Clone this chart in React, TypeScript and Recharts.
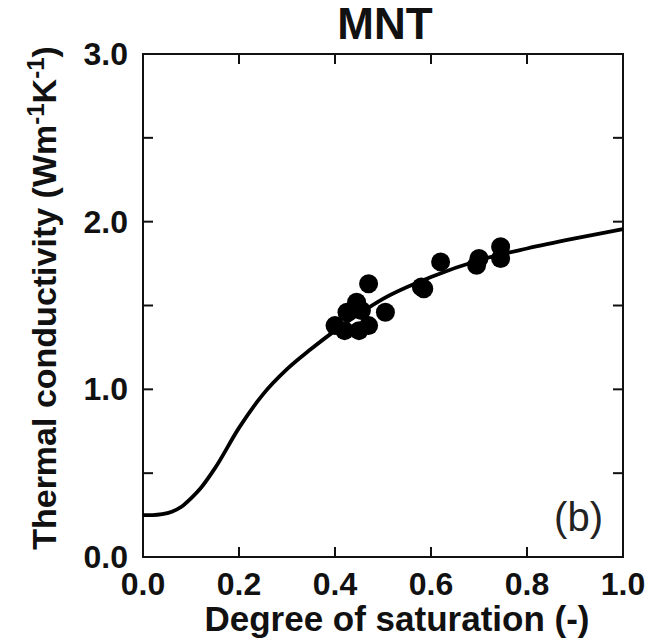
import React from 'react'
import { ComposedChart, Line, Scatter, XAxis, YAxis, ReferenceArea } from 'recharts'

// fitted model curve (degree of saturation vs thermal conductivity)
const curveS = [0, 0.02, 0.04, 0.06, 0.08, 0.1, 0.12, 0.15, 0.2, 0.25, 0.3, 0.35, 0.4, 0.45, 0.5, 0.6, 0.7, 0.8, 0.9, 1.0]
const curveK = [0.25, 0.25, 0.255, 0.27, 0.3, 0.35, 0.41, 0.53, 0.77, 0.97, 1.12, 1.24, 1.35, 1.45, 1.54, 1.67, 1.77, 1.84, 1.9, 1.955]

// measured points
const pointS = [0.4, 0.42, 0.425, 0.445, 0.455, 0.47, 0.45, 0.47, 0.505, 0.58, 0.585, 0.62, 0.695, 0.7, 0.745, 0.745]
const pointK = [1.38, 1.35, 1.46, 1.52, 1.47, 1.63, 1.35, 1.38, 1.46, 1.61, 1.6, 1.76, 1.74, 1.78, 1.78, 1.85]

const xTicks = [0, 0.2, 0.4, 0.6, 0.8, 1.0]
const yTicks = [0, 0.5, 1.0, 1.5, 2.0, 2.5, 3.0]

const W = 645
const H = 642
const PLOT_LEFT = 143
const PLOT_TOP = 54
const PLOT_RIGHT = 623
const PLOT_BOTTOM = 557
const FONT = 'Arial, "Liberation Sans", sans-serif'
const INK = '#111'

const curve = curveS.map((s, i) => ({ s, k: curveK[i] }))
const points = pointS.map((s, i) => ({ s, k: pointK[i] }))

function XTick(props: any) {
  const { x, y, payload } = props
  const v = payload.value
  const edge = v === 0 || v === 1
  return (
    <g>
      {!edge && <line x1={x} x2={x} y1={y} y2={y - 10} stroke={INK} strokeWidth={2} />}
      {!edge && <line x1={x} x2={x} y1={PLOT_TOP} y2={PLOT_TOP + 10} stroke={INK} strokeWidth={2} />}
      <text x={x} y={y + 38} textAnchor="middle" fontFamily={FONT} fontWeight="bold" fontSize={32} fill={INK}>
        {v.toFixed(1)}
      </text>
    </g>
  )
}

function YTick(props: any) {
  const { x, y, payload } = props
  const v = payload.value
  const edge = v === 0 || v === 3
  const labelled = Number.isInteger(v)
  return (
    <g>
      {!edge && <line x1={x} x2={x + 10} y1={y} y2={y} stroke={INK} strokeWidth={2} />}
      {!edge && <line x1={PLOT_RIGHT} x2={PLOT_RIGHT - 10} y1={y} y2={y} stroke={INK} strokeWidth={2} />}
      {labelled && (
        <text x={x - 15} y={y + 11} textAnchor="end" fontFamily={FONT} fontWeight="bold" fontSize={32} fill={INK}>
          {v.toFixed(1)}
        </text>
      )}
    </g>
  )
}

const Dot = (props: any) => <circle cx={props.cx} cy={props.cy} r={9.5} fill="#000" />

export default function App() {
  return (
    <div style={{ position: 'absolute', left: 0, top: 0, width: W, height: H, background: '#fff' }}>
      <ComposedChart
        width={W}
        height={H}
        margin={{ top: PLOT_TOP, right: W - PLOT_RIGHT, left: 0, bottom: 0 }}
      >
        <XAxis
          dataKey="s"
          type="number"
          domain={[0, 1]}
          ticks={xTicks}
          height={H - PLOT_BOTTOM}
          tickSize={0}
          tickMargin={0}
          tickLine={false}
          axisLine={false}
          tick={XTick}
          interval={0}
        />
        <YAxis
          dataKey="k"
          type="number"
          domain={[0, 3]}
          ticks={yTicks}
          width={PLOT_LEFT}
          tickSize={0}
          tickMargin={0}
          tickLine={false}
          axisLine={false}
          tick={YTick}
          interval={0}
        />
        <ReferenceArea x1={0} x2={1} y1={0} y2={3} fill="none" stroke={INK} strokeWidth={2} />
        <Line
          data={curve}
          dataKey="k"
          type="monotone"
          dot={false}
          stroke="#000"
          strokeWidth={3.8}
          isAnimationActive={false}
        />
        <Scatter data={points} dataKey="k" fill="#000" shape={Dot} isAnimationActive={false} />
      </ComposedChart>
      <svg width={W} height={H} style={{ position: 'absolute', left: 0, top: 0, pointerEvents: 'none' }}>
        <text x={385} y={39} textAnchor="middle" fontFamily={FONT} fontWeight="bold" fontSize={44} fill={INK}>
          MNT
        </text>
        <text x={603} y={531} textAnchor="end" fontFamily={FONT} fontSize={40} fill="#222">
          (b)
        </text>
        <text x={397} y={631} textAnchor="middle" fontFamily={FONT} fontWeight="bold" fontSize={35} fill={INK}>
          Degree of saturation (-)
        </text>
        <text
          transform="translate(56, 298) rotate(-90)"
          textAnchor="middle"
          fontFamily={FONT}
          fontWeight="bold"
          fontSize={34}
          fill={INK}
        >
          Thermal conductivity (Wm
          <tspan dy={-12} fontSize={24}>-1</tspan>
          <tspan dy={12}>K</tspan>
          <tspan dy={-12} fontSize={24}>-1</tspan>
          <tspan dy={12}>)</tspan>
        </text>
      </svg>
    </div>
  )
}
